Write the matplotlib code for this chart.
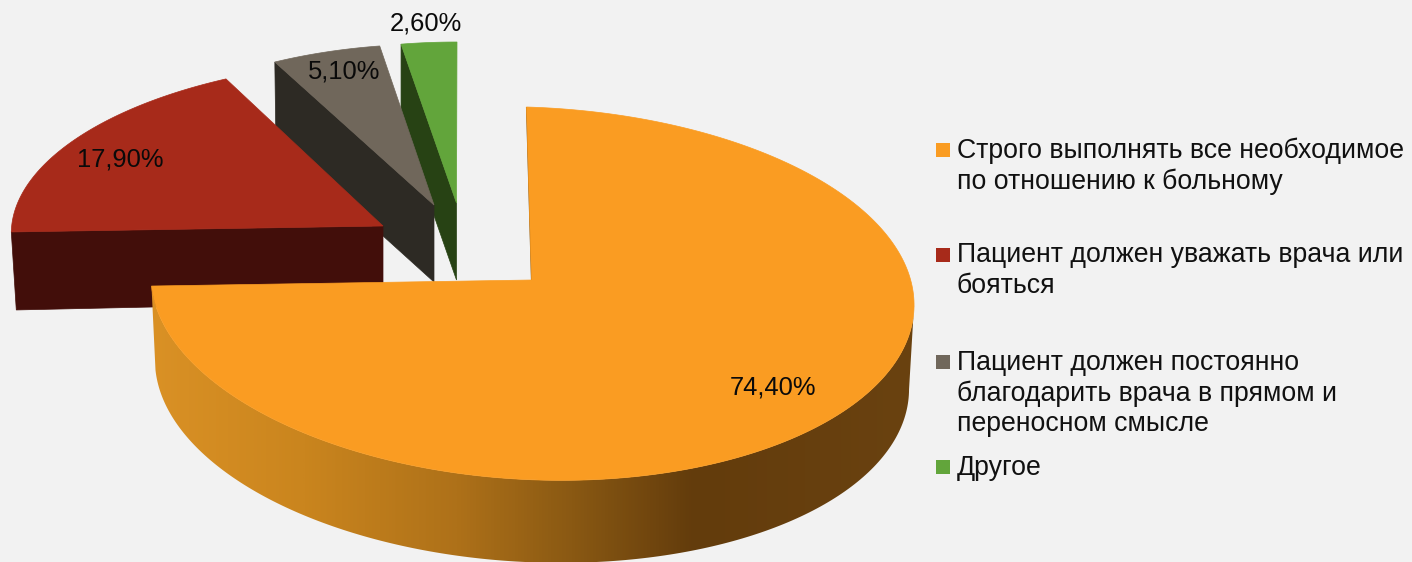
import matplotlib
matplotlib.use('Agg')
import matplotlib.pyplot as plt
import numpy as np
from matplotlib.colors import LinearSegmentedColormap
from matplotlib.patches import Polygon, Rectangle

# data
labels = ['Строго выполнять все необходимое\nпо отношению к больному',
          'Пациент должен уважать врача или\nбояться',
          'Пациент должен постоянно\nблагодарить врача в прямом и\nпереносном смысле',
          'Другое']
values = [74.4, 17.9, 5.1, 2.6]
value_text = ['74,40%', '17,90%', '5,10%', '2,60%']

# colours
top_colors = ['#FA9C22', '#A72A1A', '#70675B', '#62A53B']
wall_colors = [None, '#420E0A', '#2D2A24', '#274214']
bg_color = '#F2F2F2'

# projection of each exploded slice: apex, centre offset, sin axis, cos axis, wall depth
apex = [(531.5, 280), (383, 226), (434, 205), (456.5, 203)]
offset = [(1, 10.5), (0, 0), (0, 0), (0, 0)]
sin_axis = [(381.5, 11.5), (371.3, 0.3), (346, 1), (344, 0)]
cos_axis = [(-6, -186.5), (17.7, -166), (2, -161), (0.5, -161)]
bulge = [3, 0, 0, 0]  # perspective makes the near half a little deeper
wall_left = [(2, 80), (5, 78), (1, 77), (0, 77)]
wall_right = [(0, 0), (0, 76), (0, 77), (0, 77)]

value_pos = [(773, 387), (120, 159), (344, 72), (426, 23)]
legend_y = [151, 255.5, 362.5, 468]
line_pitch = 30.8

plt.rcParams['font.family'] = ['Liberation Sans', 'DejaVu Sans']

fig = plt.figure(figsize=(14.12, 5.62), dpi=100, facecolor=bg_color)
ax = fig.add_axes([0, 0, 1, 1])
ax.set_xlim(0, 1412)
ax.set_ylim(562, 0)
ax.axis('off')


def rim(i, theta):
    """Point on the rim of slice i for angles in degrees, clockwise from the top."""
    t = np.radians(theta)
    x = apex[i][0] + offset[i][0] + sin_axis[i][0] * np.sin(t) + cos_axis[i][0] * np.cos(t)
    y = apex[i][1] + offset[i][1] + sin_axis[i][1] * np.sin(t) + cos_axis[i][1] * np.cos(t) \
        + bulge[i] * np.cos(t) ** 2
    return np.column_stack([x, y])


edges = np.concatenate([[0], np.cumsum(values)]) / sum(values) * 360

# back slices first so that the nearer ones cover them
for i in [3, 2, 1]:
    a0, a1 = edges[i], edges[i + 1]
    start = rim(i, a0)[0]
    wall = [start, apex[i],
            (apex[i][0] + wall_right[i][0], apex[i][1] + wall_right[i][1]),
            (start[0] + wall_left[i][0], start[1] + wall_left[i][1])]
    ax.add_patch(Polygon(wall, closed=True, fc=wall_colors[i], ec=wall_colors[i], lw=0.5, zorder=i * -2))
    arc = rim(i, np.linspace(a0, a1, 80))
    ax.add_patch(Polygon(np.vstack([[apex[i]], arc]), closed=True, fc=top_colors[i],
                         ec=top_colors[i], lw=0.5, zorder=i * -2 + 1))

# orange slice: outer wall with a shaded gradient, thin inner wall, then the top face
arc_top = rim(0, np.linspace(91, edges[1], 200))
t = np.radians(np.linspace(91, edges[1], 200))
arc_low = np.column_stack([
    apex[0][0] + 0.5 + 377 * np.sin(t) - 6 * np.cos(t),
    apex[0][1] + 10.5 + 84 + 11.5 * np.sin(t) - 188 * np.cos(t),
])
wall_poly = Polygon(np.vstack([arc_top, arc_low[::-1]]), closed=True, fc='none', ec='none', zorder=1)
ax.add_patch(wall_poly)
shade = LinearSegmentedColormap.from_list('wall', [
    (0.0, '#DA9125'), (0.2, '#CA851E'), (0.4, '#AE7119'), (0.55, '#8A5913'),
    (0.71, '#633C0C'), (1.0, '#6A4210')])
grad = ax.imshow(np.linspace(0, 1, 512)[None, :], cmap=shade, extent=(150, 916, 562, 280),
                 aspect='auto', zorder=1)
grad.set_clip_path(wall_poly)
ax.set_xlim(0, 1412)
ax.set_ylim(562, 0)

top_pt = rim(0, 0)[0]
ax.add_patch(Polygon([top_pt, (top_pt[0] + 4, top_pt[1] + 60), apex[0]], closed=True,
                     fc='#7A4F12', ec='#7A4F12', lw=0.8, zorder=2))
arc = rim(0, np.linspace(edges[0], edges[1], 300))
ax.add_patch(Polygon(np.vstack([[apex[0]], arc]), closed=True, fc=top_colors[0],
                     ec=top_colors[0], lw=0.5, zorder=3))

for i, txt in enumerate(value_text):
    ax.text(value_pos[i][0], value_pos[i][1], txt, fontsize=18.4, ha='center', va='center',
            color='#0A0A0A', zorder=5)

# legend
for i, lab in enumerate(labels):
    ax.add_patch(Rectangle((936, legend_y[i] - 8), 14, 14, fc=top_colors[i], ec='none', zorder=5))
    for j, line in enumerate(lab.split('\n')):
        ax.text(957, legend_y[i] + j * line_pitch, line, fontsize=19.2, ha='left', va='center',
                color='#111111', zorder=5)

fig.savefig('out.png', dpi=100, facecolor=bg_color)
